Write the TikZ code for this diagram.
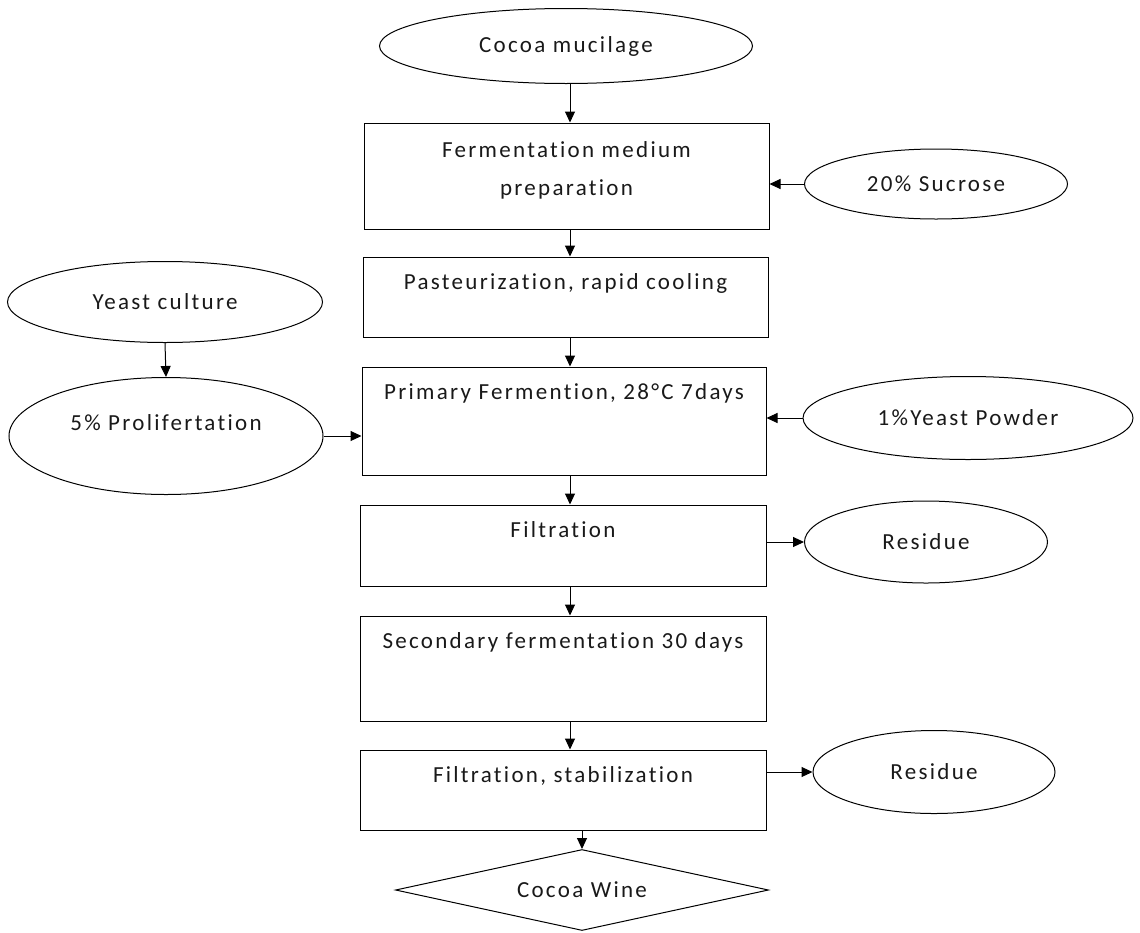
\documentclass[tikz,border=0pt]{standalone}
\usepackage{fontspec}
\setmainfont{Carlito}[LetterSpace=10, Ligatures={NoCommon}]
\usetikzlibrary{shapes.geometric,arrows.meta}
\tikzset{
  every node/.style={font=\fontsize{23}{38}\selectfont, text=black!90},
  box/.style={draw, rectangle, inner sep=0, line width=1pt},
  oval/.style={draw, ellipse, inner sep=0, line width=1pt, align=center},
  arr/.style={-{Triangle[length=11pt,width=10pt]}, line width=1pt},
  lbl/.style={anchor=base, inner sep=0},
}
\begin{document}
\begin{tikzpicture}[x=1pt,y=-1pt]
\useasboundingbox (0,0) rectangle (1140,932);
\node[oval, minimum width=373, minimum height=75] (muc) at (566,46) {Cocoa mucilage};
\node[box, minimum width=405, minimum height=106] (b1) at (566.5,176) {};
\node[inner sep=0, align=center] (t1) at (566.5,170) {Fermentation medium\\preparation};
\node[oval, minimum width=263, minimum height=70] (suc) at (936,184) {20\% Sucrose};
\node[box, minimum width=405, minimum height=80] (b2) at (565.5,297) {};
\node[lbl] (t2) at ([yshift=-33pt]b2.north) {Pasteurization, rapid cooling};
\node[oval, minimum width=315, minimum height=81] (yc) at (165,302) {Yeast culture};
\node[oval, minimum width=314, minimum height=117] (pro) at (166,436) {};
\node[lbl] (tpro) at (166,430) {5\% Prolifertation};
\node[box, minimum width=404, minimum height=108] (b3) at (564,421) {};
\node[lbl] (t3) at ([yshift=-33pt]b3.north) {Primary Fermention, 28°C 7days};
\node[oval, minimum width=330, minimum height=83] (yp) at (968,418) {1\%Yeast Powder};
\node[box, minimum width=406, minimum height=81] (b4) at (563,545.5) {};
\node[lbl] (t4) at ([yshift=-33pt]b4.north) {Filtration};
\node[oval, minimum width=243, minimum height=82] (r1) at (926,542) {Residue};
\node[box, minimum width=406, minimum height=105] (b5) at (563,668.5) {};
\node[lbl] (t5) at ([yshift=-33pt]b5.north) {Secondary fermentation 30 days};
\node[box, minimum width=406, minimum height=80] (b6) at (563,790) {};
\node[lbl] (t6) at ([yshift=-33pt]b6.north) {Filtration, stabilization};
\node[oval, minimum width=242, minimum height=83] (r2) at (934,772) {Residue};
\node[draw, diamond, minimum width=373, minimum height=81, aspect=4.6, inner sep=0, line width=1pt] (wine) at (582,890) {Cocoa Wine};
\coordinate (ax) at (570,0);
\draw[arr] (muc.south -| ax) -- (b1.north -| ax);
\draw[arr] (b1.south -| ax) -- (b2.north -| ax);
\draw[arr] (b2.south -| ax) -- (b3.north -| ax);
\draw[arr] (b3.south -| ax) -- (b4.north -| ax);
\draw[arr] (b4.south -| ax) -- (b5.north -| ax);
\draw[arr] (b5.south -| ax) -- (b6.north -| ax);
\draw[arr] (b6.south -| wine.north) -- (wine.north);
\draw[arr] (suc.west) -- (b1.east |- suc.west);
\draw[arr] (yp.west) -- (b3.east |- yp.west);
\draw[arr] (pro.east) -- (b3.west |- pro.east);
\draw[arr] (b4.east |- r1.west) -- (r1.west);
\draw[arr] (b6.east |- r2.west) -- (r2.west);
\draw[arr] (yc.south) -- (pro.north);
\end{tikzpicture}
\end{document}
